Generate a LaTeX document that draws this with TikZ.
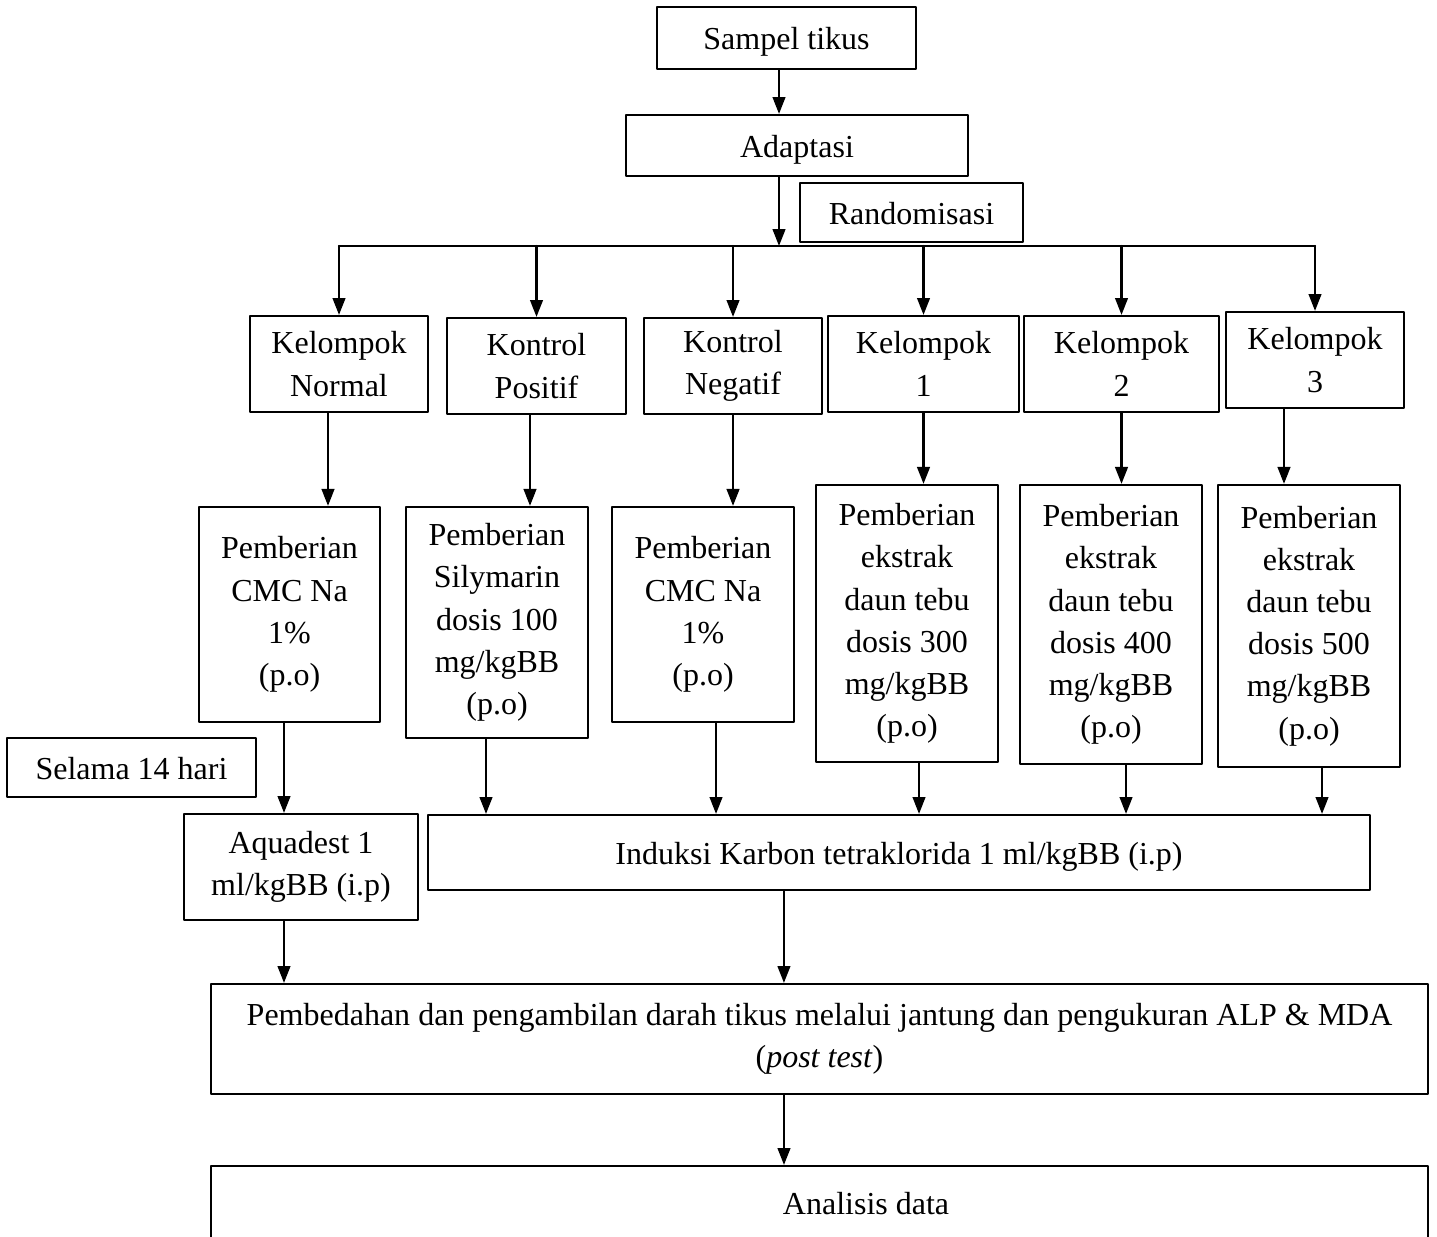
\documentclass[tikz,border=0pt]{standalone}
\usepackage{fontspec}
\setmainfont{Liberation Serif}
\usetikzlibrary{arrows.meta}
\begin{document}
\begin{tikzpicture}[line cap=round,line join=round,>={Triangle[length=4.8pt,width=3.6pt]},x=0.01cm,y=0.01cm,
  kotak/.style={draw,line width=0.6pt,inner sep=0pt,align=center,font=\fontsize{9.1}{12}\selectfont},
  satu/.style={text height=0.9em,text depth=0.22em},
  garis/.style={line width=0.6pt},
  panah/.style={->,line width=0.6pt}]
\useasboundingbox (0,0) rectangle (1437,1236);
\clip (0,0) rectangle (1437,1236);
\fill[white] (0,0) rectangle (1437,1236);
\node[kotak,satu,minimum width=2.59cm,minimum height=0.62cm] (sampel) at (786.5,1198) {Sampel tikus};
\node[kotak,satu,minimum width=3.42cm,minimum height=0.61cm] (adaptasi) at (797,1090.5) {Adaptasi};
\node[kotak,satu,minimum width=2.23cm,minimum height=0.59cm] (acak) at (911.5,1023.5) {Randomisasi};
\node[kotak,minimum width=1.78cm,minimum height=0.96cm] (normal) at (339,872) {Kelompok\\Normal};
\node[kotak,minimum width=1.79cm,minimum height=0.96cm] (positif) at (536.5,870) {Kontrol\\Positif};
\node[kotak,minimum width=1.78cm,minimum height=0.96cm] (negatif) at (733,870) {Kontrol\\Negatif};
\node[kotak,minimum width=1.91cm,minimum height=0.96cm] (kel1) at (923.5,872) {Kelompok\\1};
\node[kotak,minimum width=1.95cm,minimum height=0.96cm] (kel2) at (1121.5,872) {Kelompok\\2};
\node[kotak,minimum width=1.78cm,minimum height=0.96cm] (kel3) at (1315,876) {Kelompok\\3};
\node[kotak,minimum width=1.81cm,minimum height=2.15cm] (cmcA) at (289.5,621.5) {Pemberian\\CMC Na\\1\%\\(p.o)};
\node[kotak,minimum width=1.82cm,minimum height=2.31cm] (silymarin) at (497,613.5) {Pemberian\\Silymarin\\dosis 100\\mg/kgBB\\(p.o)};
\node[kotak,minimum width=1.82cm,minimum height=2.15cm] (cmcB) at (703,621.5) {Pemberian\\CMC Na\\1\%\\(p.o)};
\node[kotak,minimum width=1.82cm,minimum height=2.77cm] (dosisA) at (907,612.5) {Pemberian\\ekstrak\\daun tebu\\dosis 300\\mg/kgBB\\(p.o)};
\node[kotak,minimum width=1.82cm,minimum height=2.79cm] (dosisB) at (1111,611.5) {Pemberian\\ekstrak\\daun tebu\\dosis 400\\mg/kgBB\\(p.o)};
\node[kotak,minimum width=1.82cm,minimum height=2.82cm] (dosisC) at (1309,610) {Pemberian\\ekstrak\\daun tebu\\dosis 500\\mg/kgBB\\(p.o)};
\node[kotak,satu,minimum width=2.49cm,minimum height=0.59cm] (selama) at (131.5,468.5) {Selama 14 hari};
\node[kotak,minimum width=2.34cm,minimum height=1.06cm] (aquadest) at (301,369) {Aquadest 1\\ml/kgBB (i.p)};
\node[kotak,satu,minimum width=9.42cm,minimum height=0.75cm] (induksi) at (899,383.5) {Induksi Karbon tetraklorida 1 ml/kgBB (i.p)};
\node[kotak,minimum width=12.17cm,minimum height=1.10cm] (bedah) at (819.5,197) {Pembedahan dan pengambilan darah tikus melalui jantung dan pengukuran ALP \& MDA\\(\textit{post test})};
\node[kotak,satu,minimum width=12.17cm,minimum height=0.74cm] (analisis) at (819.5,33) {\hspace*{0.93cm}Analisis data};
\coordinate (bus) at (779,990);
\draw[panah] ([xshift=-0.075cm]sampel.south) -- ([xshift=-0.075cm]sampel.south |- adaptasi.north);
\draw[panah] (adaptasi.south -| bus) -- (bus);
\draw[garis] (normal.north |- bus) -- (kel3.north |- bus);
\draw[panah] (normal.north |- bus) -- (normal.north);
\draw[panah] (positif.north |- bus) -- (positif.north);
\draw[panah] (negatif.north |- bus) -- (negatif.north);
\draw[panah] (kel1.north |- bus) -- (kel1.north);
\draw[panah] (kel2.north |- bus) -- (kel2.north);
\draw[panah] (kel3.north |- bus) -- (kel3.north);
\draw[panah] ([xshift=-0.11cm]normal.south) -- ([xshift=-0.11cm]normal.south |- cmcA.north);
\draw[panah] ([xshift=-0.065cm]positif.south) -- ([xshift=-0.065cm]positif.south |- silymarin.north);
\draw[panah] (negatif.south) -- (negatif.south |- cmcB.north);
\draw[panah] (kel1.south) -- (kel1.south |- dosisA.north);
\draw[panah] (kel2.south) -- (kel2.south |- dosisB.north);
\draw[panah] ([xshift=-0.31cm]kel3.south) -- ([xshift=-0.31cm]kel3.south |- dosisC.north);
\draw[panah] ([xshift=-0.055cm]cmcA.south) -- ([xshift=-0.055cm]cmcA.south |- aquadest.north);
\draw[panah] ([xshift=-0.11cm]silymarin.south) -- ([xshift=-0.11cm]silymarin.south |- induksi.north);
\draw[panah] ([xshift=0.13cm]cmcB.south) -- ([xshift=0.13cm]cmcB.south |- induksi.north);
\draw[panah] ([xshift=0.12cm]dosisA.south) -- ([xshift=0.12cm]dosisA.south |- induksi.north);
\draw[panah] ([xshift=0.15cm]dosisB.south) -- ([xshift=0.15cm]dosisB.south |- induksi.north);
\draw[panah] ([xshift=0.13cm]dosisC.south) -- ([xshift=0.13cm]dosisC.south |- induksi.north);
\draw[panah] ([xshift=-0.17cm]aquadest.south) -- ([xshift=-0.17cm]aquadest.south |- bedah.north);
\draw[panah] ([xshift=-1.15cm]induksi.south) -- ([xshift=-1.15cm]induksi.south |- bedah.north);
\draw[panah] ([xshift=-0.355cm]bedah.south) -- ([xshift=-0.355cm]bedah.south |- analisis.north);
\end{tikzpicture}
\end{document}
